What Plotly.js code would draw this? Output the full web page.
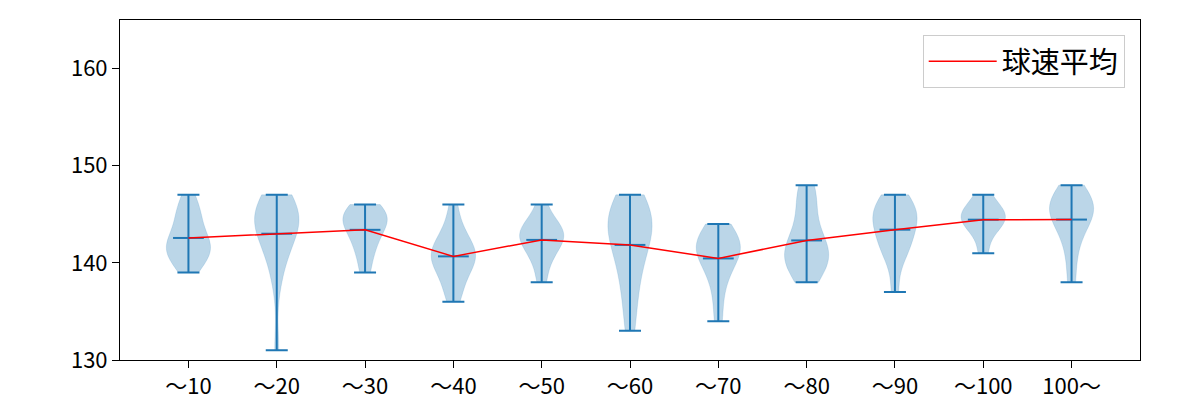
<!DOCTYPE html>
<html>
<head>
<meta charset="utf-8">
<script src="https://cdn.plot.ly/plotly-3.0.1.min.js"></script>
<style>html,body{margin:0;padding:0;background:#fff;}#chart{width:1200px;height:400px;}</style>
</head>
<body>
<div id="chart"></div>
<script>
const categories = ["～10","～20","～30","～40","～50","～60","～70","～80","～90","～100","100～"];
const speeds_10  = [139,140,140,141,141,141,142,142,142,143,143,144,145,145,146,147];
const speeds_20  = [131,138,140,141,142,143,143,144,144,144,145,145,145,146,146,147,147];
const speeds_30  = [139,141,142,143,144,144,145,145,145,146];
const speeds_40  = [136,137,138,139,140,140,140,141,141,141,142,142,143,144,146];
const speeds_50  = [138,140,141,142,142,143,143,143,144,144,146];
const speeds_60  = [133,136,138,140,141,142,143,144,144,145,145,146,147];
const speeds_70  = [134,137,139,140,141,141,142,142,142,143,144];
const speeds_80  = [138,139,140,140,141,141,141,142,143,144,146,147,148];
const speeds_90  = [137,141,141,142,143,144,144,145,145,146,146,147];
const speeds_100 = [141,143,144,144,145,145,145,146,147];
const speeds_over = [138,141,143,144,145,145,146,146,146,147,148];
const seriesName = "球速平均";

const samples = [speeds_10,speeds_20,speeds_30,speeds_40,speeds_50,speeds_60,speeds_70,speeds_80,speeds_90,speeds_100,speeds_over];

const blue = "#1f77b4";
const font = "Noto Sans CJK JP";
const mean = a => a.reduce((s,v)=>s+v,0)/a.length;
const scottBw = a => {
  const m = mean(a);
  const sd = Math.sqrt(a.reduce((s,v)=>s+(v-m)*(v-m),0)/(a.length-1));
  return sd*Math.pow(a.length,-0.2);
};

const traces = [];
samples.forEach((arr,i)=>{
  traces.push({
    type:"violin", x0:categories[i], y:arr, width:0.5, scalemode:"width",
    spanmode:"hard", bandwidth:scottBw(arr), points:false,
    box:{visible:false}, meanline:{visible:false},
    fillcolor:"rgba(31,119,180,0.3)", line:{color:"rgba(31,119,180,0.3)",width:0.5},
    showlegend:false, hoverinfo:"skip"
  });
});
const means = samples.map(mean);
const mins = samples.map(a=>Math.min(...a));
const maxs = samples.map(a=>Math.max(...a));
traces.push({
  type:"scatter", mode:"markers", x:categories, y:means, showlegend:false, hoverinfo:"skip",
  marker:{symbol:"line-ew", size:22, color:blue, line:{color:blue,width:2}},
  error_y:{type:"data", symmetric:false, array:maxs.map((v,i)=>v-means[i]), arrayminus:means.map((m,i)=>m-mins[i]), color:blue, thickness:2, width:11}
});
traces.push({
  type:"scatter", mode:"lines", x:categories, y:means, name:seriesName,
  line:{color:"#ff0000", width:1.5}, hoverinfo:"skip"
});

const layout = {
  width:1200, height:400,
  margin:{l:120, r:60, t:20, b:40},
  paper_bgcolor:"#fff", plot_bgcolor:"#fff",
  font:{family:font, size:22, color:"#000"},
  violinmode:"overlay",
  xaxis:{type:"category", categoryorder:"array", categoryarray:categories, range:[-0.775,10.775],
    showline:true, mirror:true, linecolor:"#000", linewidth:1, ticks:"outside", ticklen:7, tickcolor:"#000",
    showgrid:false, zeroline:false, tickfont:{family:font,size:22}},
  yaxis:{range:[130,165], tickvals:[130,140,150,160], showline:true, mirror:true, linecolor:"#000", linewidth:1,
    ticks:"outside", ticklen:7, tickcolor:"#000", showgrid:false, zeroline:false, tickfont:{family:font,size:22}},
  legend:{x:0.985, y:0.956, xanchor:"right", yanchor:"top", bgcolor:"#fff", bordercolor:"#cccccc", borderwidth:1,
    itemwidth:68, font:{family:font,size:29}},
  showlegend:true
};
Plotly.newPlot("chart", traces, layout, {staticPlot:true});
</script>
</body>
</html>
